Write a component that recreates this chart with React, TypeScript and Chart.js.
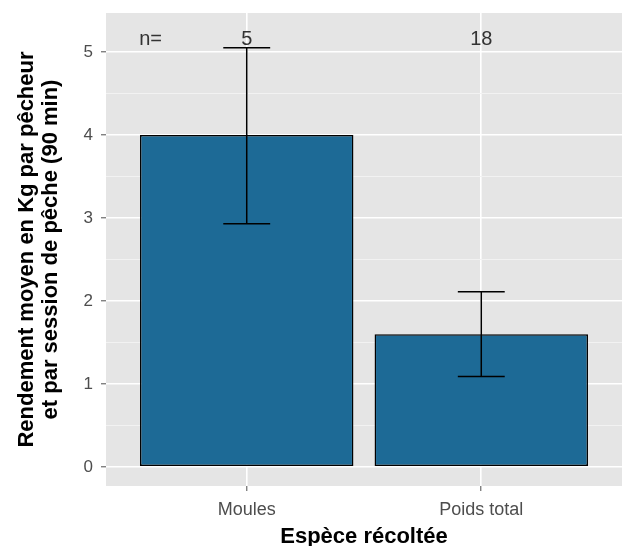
import React, { useEffect, useRef } from "react";
import { Chart, registerables } from "chart.js";

Chart.register(...registerables);

// ---- data ----
const categories = ["Moules", "Poids total"];
const categoryPos = [1, 2];
const meanYield = [4.0, 1.6];
const errLow = [2.93, 1.09];
const errHigh = [5.05, 2.11];
const sampleSizes = ["5", "18"];
const yTickValues = [0, 1, 2, 3, 4, 5];
const yMinorValues = [0.5, 1.5, 2.5, 3.5, 4.5];
const yTitleLines = ["Rendement moyen en Kg par pêcheur", "et par session de pêche (90 min)"];
const xTitle = "Espèce récoltée";
const nPrefix = "n=";

const FONT = "'Liberation Sans', Arial, Helvetica, sans-serif";

export default function App() {
  const ref = useRef<HTMLCanvasElement | null>(null);

  useEffect(() => {
    const canvas = ref.current!;
    const isMajor = (v: number) => yTickValues.includes(v);

    const panelPlugin = {
      id: "panel",
      beforeDraw(chart: any) {
        const { ctx, chartArea: a } = chart;
        ctx.save();
        ctx.fillStyle = "#FFFFFF";
        ctx.fillRect(0, 0, chart.width, chart.height);
        ctx.fillStyle = "#E5E5E5";
        ctx.fillRect(a.left, a.top, a.right - a.left, a.bottom - a.top);
        ctx.restore();
      },
      afterDatasetsDraw(chart: any) {
        const { ctx } = chart;
        const xs = chart.scales.x;
        const ys = chart.scales.y;
        ctx.save();
        ctx.strokeStyle = "#000000";
        ctx.lineWidth = 1.5;
        categoryPos.forEach((c, i) => {
          const x = xs.getPixelForValue(c);
          const xl = xs.getPixelForValue(c - 0.1);
          const xr = xs.getPixelForValue(c + 0.1);
          const yt = ys.getPixelForValue(errHigh[i]);
          const yb = ys.getPixelForValue(errLow[i]);
          ctx.beginPath();
          ctx.moveTo(x, yt);
          ctx.lineTo(x, yb);
          ctx.moveTo(xl, yt);
          ctx.lineTo(xr, yt);
          ctx.moveTo(xl, yb);
          ctx.lineTo(xr, yb);
          ctx.stroke();
        });
        // n annotations
        ctx.fillStyle = "#333333";
        ctx.font = `20px ${FONT}`;
        ctx.textAlign = "center";
        ctx.textBaseline = "middle";
        const yText = ys.getPixelForValue(5.15);
        ctx.fillText(nPrefix, xs.getPixelForValue(0.59), yText);
        categoryPos.forEach((c, i) => {
          ctx.fillText(sampleSizes[i], xs.getPixelForValue(c), yText);
        });
        ctx.restore();
      },
      afterDraw(chart: any) {
        const { ctx, chartArea: a } = chart;
        ctx.save();
        ctx.fillStyle = "#000000";
        ctx.font = `bold 22px ${FONT}`;
        ctx.textAlign = "center";
        ctx.textBaseline = "alphabetic";
        ctx.fillText(xTitle, (a.left + a.right) / 2, 543);
        const cy = (a.top + a.bottom) / 2;
        const xs = [33, 57];
        yTitleLines.forEach((line, i) => {
          ctx.save();
          ctx.translate(xs[i], cy);
          ctx.rotate(-Math.PI / 2);
          ctx.fillText(line, 0, 0);
          ctx.restore();
        });
        ctx.restore();
      },
    };

    const chart = new Chart(canvas, {
      type: "bar",
      data: {
        datasets: [
          {
            data: categoryPos.map((c, i) => ({ x: c, y: meanYield[i] })),
            backgroundColor: "#1D6A96",
            borderColor: "#000000",
            borderWidth: 1.5,
            borderSkipped: false,
            barPercentage: 0.91,
            categoryPercentage: 1,
          },
        ],
      },
      options: {
        responsive: false,
        animation: false,
        layout: { padding: { top: 13, right: 4, left: 0, bottom: 0 } },
        plugins: { legend: { display: false }, tooltip: { enabled: false }, title: { display: false } },
        scales: {
          x: {
            type: "linear",
            min: 0.4,
            max: 2.6,
            offset: false,
            afterBuildTicks: (s: any) => {
              s.ticks = categoryPos.map((v) => ({ value: v }));
            },
            afterFit: (s: any) => {
              s.height = 60;
              s.paddingLeft = 0;
              s.paddingRight = 0;
            },
            ticks: {
              autoSkip: false,
              maxRotation: 0,
              padding: 8,
              color: "#4D4D4D",
              font: { size: 18, family: FONT },
              callback: (_v: any, i: number) => categories[i],
            },
            grid: {
              offset: false,
              color: "#FFFFFF",
              lineWidth: 1.6,
              tickColor: "#4D4D4D",
              tickLength: 5,
              tickWidth: 1,
            },
            border: { display: false },
          },
          y: {
            type: "linear",
            min: -0.23,
            max: 5.47,
            afterBuildTicks: (s: any) => {
              s.ticks = [...yTickValues, ...yMinorValues].sort((a, b) => a - b).map((v) => ({ value: v }));
            },
            afterFit: (s: any) => {
              s.width = 106;
              s.paddingTop = 0;
              s.paddingBottom = 0;
            },
            ticks: {
              autoSkip: false,
              padding: 8,
              color: "#4D4D4D",
              font: { size: 17, family: FONT },
              callback: (v: any) => (isMajor(v) ? String(v) : ""),
            },
            grid: {
              color: (c: any) => (isMajor(c.tick?.value) ? "#FFFFFF" : "#F2F2F2"),
              lineWidth: (c: any) => (isMajor(c.tick?.value) ? 1.6 : 1),
              tickColor: (c: any) => (isMajor(c.tick?.value) ? "#4D4D4D" : "rgba(0,0,0,0)"),
              tickLength: 5,
              tickWidth: 1,
            },
            border: { display: false },
          },
        },
      },
      plugins: [panelPlugin],
    });

    return () => chart.destroy();
  }, []);

  return (
    <div style={{ position: "absolute", left: 0, top: 0, width: 626, height: 546 }}>
      <canvas ref={ref} width={626} height={546} style={{ display: "block" }} />
    </div>
  );
}
